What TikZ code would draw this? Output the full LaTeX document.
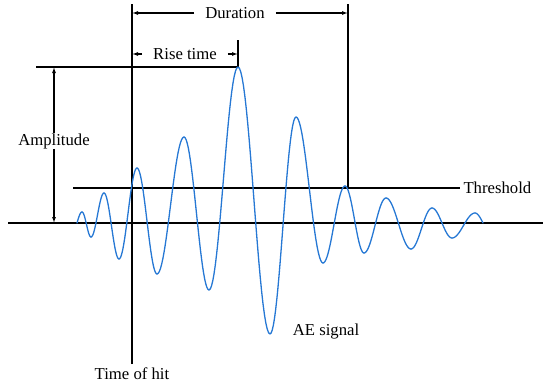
\documentclass[tikz,border=0pt]{standalone}
\usepackage{fontspec}
\setmainfont{Liberation Serif}
\usetikzlibrary{arrows.meta}
\definecolor{sigblue}{RGB}{38,120,212}

\begin{document}
\begin{tikzpicture}[x=1pt,y=-1pt,>={Latex[length=6pt,width=4pt]},
 font=\fontsize{16.7}{20}\selectfont,
 lbl/.style={inner sep=0pt,inner xsep=#1},
 lbl/.default=11pt,
 ax/.style={draw=black,line width=1.2pt},
 arr/.style={->,draw=black,line width=1.1pt},
 sig/.style={draw=sigblue,line width=1.3pt,line cap=round}]
\useasboundingbox (0,0) rectangle (550,388);
% reference points
\coordinate (b0) at (8,223); \coordinate (b1) at (543,223);
\coordinate (th0) at (73,188);
\coordinate (hittop) at (132,4);
\coordinate (durtop) at (348,4); \coordinate (durbot) at (348,188);
\coordinate (rtop) at (238,40); \coordinate (peak) at (238,67);
\coordinate (a0) at (36,67);
\coordinate (d1) at (132,13); \coordinate (d2) at (348,13);
\coordinate (r1) at (132,54); \coordinate (r2) at (238,54);
\coordinate (amptop) at (54,67); \coordinate (ampbot) at (54,223);
% labels
\node[lbl] (dur) at (235,13) {Duration};
\node[lbl] (rise) at (185,54) {Rise time};
\node[lbl=0pt] (amp) at (54,141) {Amplitude};
\node[anchor=west] (thr) at (460,188) {Threshold};
\node[anchor=north] (hit) at (132,364) {Time of hit};
\node (ae) at (326,332) {AE signal};
% lines
\draw[ax] (b0)--(b1);
\draw[line width=2pt] (th0)--(thr.west);
\draw[ax] (hit.north)--(hittop);
\draw[ax] (durbot)--(durtop);
\draw[ax] (a0)--(peak)--(rtop);
% arrows
\draw[arr] (dur.west)--(d1); \draw[arr] (dur.east)--(d2);
\draw[arr] (rise.west)--(r1); \draw[arr] (rise.east)--(r2);
\draw[arr] (amp.north)--(amptop); \draw[arr] (amp.south)--(ampbot);
% AE signal
\draw[sig] plot[domain=0:90,samples=12] ({77+5*\x/90},{223-11*sin(\x)});
\foreach \xa/\ya/\xb/\yb in {82/212/91/237,91/237/104/193,104/193/119/259,
 119/259/137/168,137/168/157/274,157/274/184/137,184/137/209/290,
 209/290/238/67,238/67/270/334,270/334/296/117,296/117/323/263,
 323/263/345/186,345/186/364/253,364/253/386/198,386/198/411/249,
 411/249/432/208,432/208/452/238,452/238/475/213}
 \draw[sig] plot[domain=0:180,samples=24] ({\xa+(\xb-\xa)*\x/180},{\ya+(\yb-\ya)*(1-cos(\x))/2});
\draw[sig] plot[domain=0:90,samples=12] ({475+8*\x/90},{213+10*(1-cos(\x))});
\end{tikzpicture}
\end{document}
